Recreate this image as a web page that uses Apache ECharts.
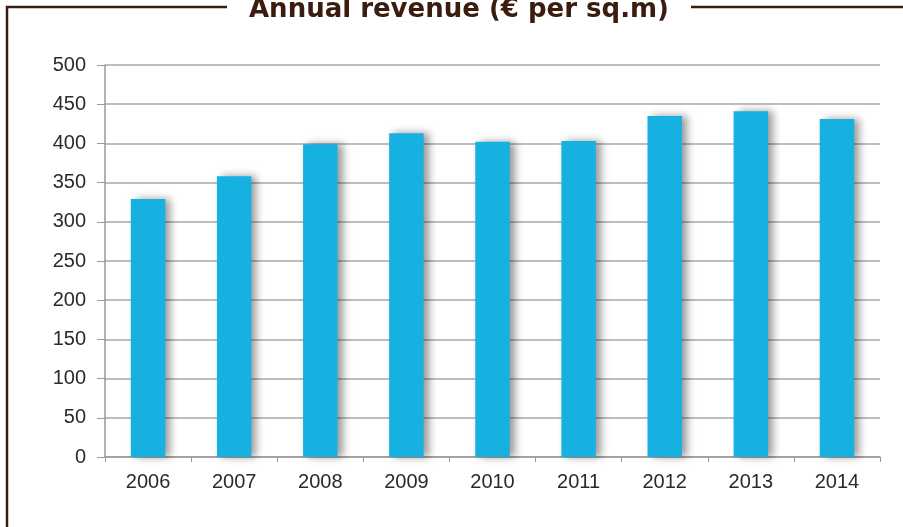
<!DOCTYPE html>
<html>
<head>
<meta charset="utf-8">
<script src="https://cdn.jsdelivr.net/npm/echarts@6/dist/echarts.min.js"></script>
<style>
  html, body { margin: 0; padding: 0; background: #ffffff; }
  #chart { width: 903px; height: 527px; }
</style>
</head>
<body>
<div id="chart"></div>
<script>
// Annual revenue per square metre, 2006–2014
const years = ['2006', '2007', '2008', '2009', '2010', '2011', '2012', '2013', '2014'];
const revenue = [329, 358, 399, 413, 402, 403, 435, 441, 431];
const yTicks = { min: 0, max: 500, interval: 50 };
const titleText = 'Annual revenue (€ per sq.m)';

const frameColor = '#3b1d10';
const chart = echarts.init(document.getElementById('chart'));

chart.setOption({
  backgroundColor: '#ffffff',
  animation: false,
  title: {
    text: titleText,
    left: 227,
    top: -5,
    z: 10,
    padding: [2, 22, 4, 22],
    backgroundColor: '#ffffff',
    textStyle: {
      fontFamily: 'DejaVu Sans',
      fontWeight: 'bold',
      fontSize: 26,
      color: frameColor
    }
  },
  graphic: [
    {
      type: 'polyline',
      z: 1,
      shape: { points: [[7, 530], [7, 7], [905, 7]] },
      style: { stroke: frameColor, lineWidth: 2.5, fill: null }
    }
  ],
  grid: { left: 105, right: 23, top: 65, bottom: 70 },
  xAxis: {
    type: 'category',
    data: years,
    axisLine: { show: true, lineStyle: { color: '#999999', width: 1.5 } },
    axisTick: { show: true, length: 5, lineStyle: { color: '#999999' } },
    axisLabel: {
      margin: 15,
      color: '#2a2a2a',
      fontFamily: 'Liberation Sans',
      fontSize: 20
    },
    splitLine: { show: false }
  },
  yAxis: {
    type: 'value',
    min: yTicks.min,
    max: yTicks.max,
    interval: yTicks.interval,
    axisLine: { show: true, lineStyle: { color: '#999999', width: 1.5 } },
    axisTick: { show: true, length: 8, lineStyle: { color: '#999999' } },
    axisLabel: {
      margin: 19,
      color: '#2a2a2a',
      fontFamily: 'Liberation Sans',
      fontSize: 20
    },
    splitLine: { show: true, lineStyle: { color: '#a8a8a8', width: 1.5 } }
  },
  series: [
    {
      type: 'bar',
      data: revenue,
      barWidth: '40%',
      itemStyle: {
        color: '#16b1e0',
        shadowColor: 'rgba(0,0,0,0.4)',
        shadowBlur: 8,
        shadowOffsetX: 5,
        shadowOffsetY: 0
      }
    }
  ]
});
</script>
</body>
</html>
